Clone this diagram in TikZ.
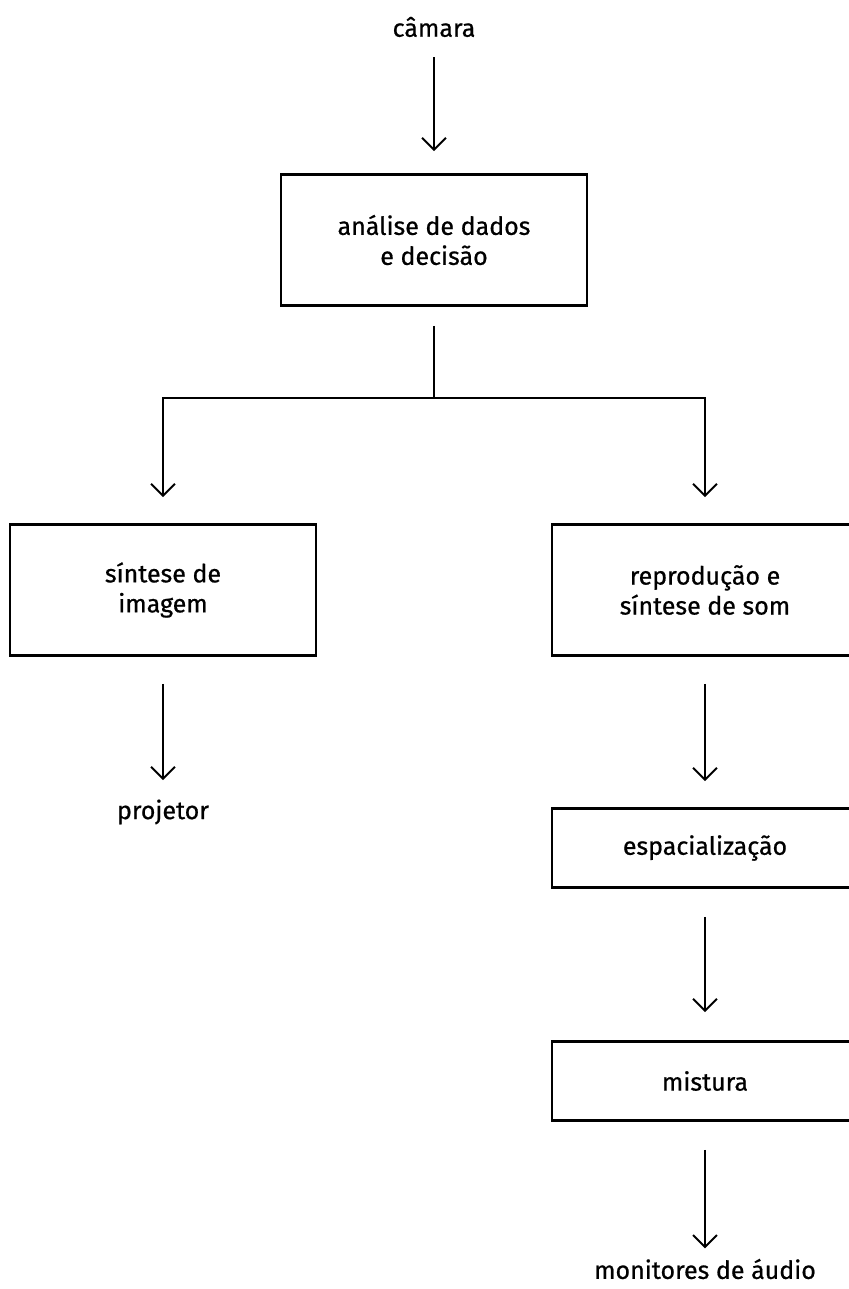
\documentclass[tikz,border=0pt]{standalone}
\usepackage{fontspec}
\setmainfont{Fira Sans}[FakeBold=0.7,AutoFakeBold=0.7]
\usetikzlibrary{arrows.meta}
\tikzstyle{fBlock} = [rectangle, minimum width=153pt, minimum height=65.5pt, align=center, draw=black, line width=1.3pt, font=\fontsize{12.5}{15}\selectfont\bfseries]
\tikzstyle{fSmallBlock} = [fBlock, minimum height=39.5pt]
\tikzstyle{fLabel} = [inner sep=0pt, align=center, font=\fontsize{12.5}{15}\selectfont\bfseries]
\tikzstyle{fArrow} = [line width=1pt, -{Straight Barb[length=6pt,width=12pt,line width=1pt]}, shorten <=13.5pt, shorten >=13pt]

\begin{document}
\begin{tikzpicture}[node distance=110pt]
    \useasboundingbox (0,0) rectangle (424pt,-644.5pt);
    \node (camera) [fLabel] at (217pt,-13.5pt) {câmara};
    \node (analysis) [fBlock, below of=camera, yshift=3.5pt] {análise de dados\\e decisão};
    \node (imgsynth) [fBlock, below of=analysis, yshift=-65pt, xshift=-135.5pt] {síntese de\\imagem};
    \node (soundsynth) [fBlock, below of=analysis, yshift=-65pt, xshift=135.5pt] {reprodução e\\síntese de som};
    \node (projector) [fLabel, below of=imgsynth, yshift=-1pt] {projetor};
    \node (spatial) [fSmallBlock, below of=soundsynth, yshift=-19pt] {espacialização};
    \node (mix) [fSmallBlock, below of=spatial, yshift=-6.5pt] {mistura};
    \node (monitors) [fLabel, below of=mix, yshift=16pt] {monitores de áudio};
    \coordinate (split) at ([yshift=-45.5pt]analysis.south);

    \draw [fArrow, shorten <=10pt, shorten >=11pt] (camera) -- (analysis);
    \draw [line width=1pt, shorten <=9.5pt] (analysis) -- (split);
    \draw [fArrow, shorten <=0pt] (split) -| (imgsynth);
    \draw [fArrow, shorten <=0pt] (split) -| (soundsynth);
    \draw [fArrow, shorten >=9.5pt] (imgsynth) -- (projector);
    \draw [fArrow] (soundsynth) -- (spatial);
    \draw [fArrow, shorten <=14pt, shorten >=14pt] (spatial) -- (mix);
    \draw [fArrow, shorten <=14pt, shorten >=5pt] (mix) -- (monitors);
\end{tikzpicture}
\end{document}
